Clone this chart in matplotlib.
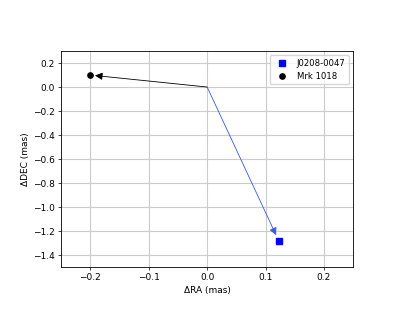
import numpy as np
import matplotlib
matplotlib.use("Agg")
import matplotlib.pyplot as plt

names = ["J0208-0047", "Mrk 1018"]
ra = [0.123, -0.200]
dec = [-1.285, 0.100]
markers = ["s", "o"]
colors = ["blue", "black"]
arrow_colors = ["#3b5bdb", "black"]

fig = plt.figure(figsize=(4.05, 3.15), dpi=100)
ax = fig.add_axes([0.151, 0.152, 0.721, 0.686])

for i in range(len(names)):
    ax.plot(ra[i], dec[i], markers[i], color=colors[i], markersize=3.8, label=names[i], zorder=3)
    ax.annotate("", xy=(ra[i] * 0.96, dec[i] * 0.96), xytext=(0, 0),
                arrowprops=dict(arrowstyle="-|>", color=arrow_colors[i], lw=0.6,
                                shrinkA=0, shrinkB=0, mutation_scale=11))

ax.set_xlim(-0.25, 0.25)
ax.set_ylim(-1.5, 0.3)
ax.set_xticks([-0.2, -0.1, 0.0, 0.1, 0.2])
ax.set_yticks(np.arange(-1.4, 0.21, 0.2))
ax.grid(True, color="#cccccc", lw=0.8)
ax.set_axisbelow(True)
ax.tick_params(labelsize=6.5, length=2.2, width=0.5, pad=2.2)
for s in ax.spines.values():
    s.set_linewidth(0.6)
ax.set_xlabel("ΔRA (mas)", fontsize=6.5, labelpad=2.5)
ax.set_ylabel("ΔDEC (mas)", fontsize=6.5, labelpad=2.5)
ax.legend(loc="upper right", fontsize=6.1)

plt.savefig("out.png")
